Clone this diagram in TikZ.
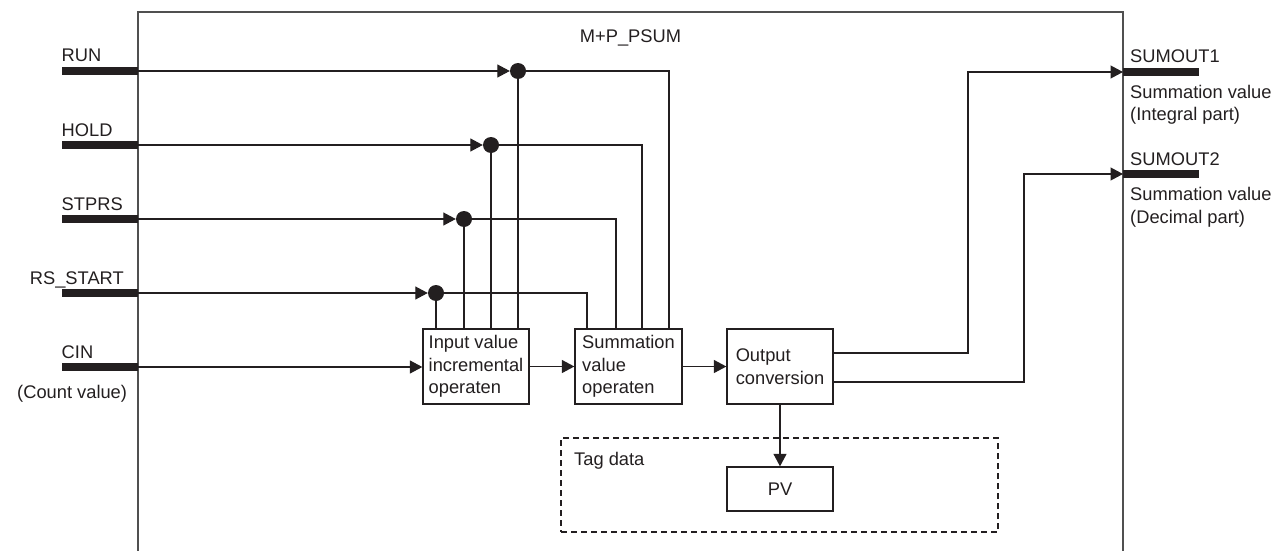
\documentclass[tikz,border=0pt]{standalone}
\usepackage{fontspec}
\setmainfont{Liberation Sans}
\usetikzlibrary{arrows.meta,calc}
\definecolor{ink}{HTML}{231F20}
\definecolor{framec}{HTML}{505050}
\begin{document}
\begin{tikzpicture}[x=1pt,y=-1pt,
  every node/.style={font=\fontsize{18.3}{22.5}\selectfont, text=ink},
  conn/.style={draw=ink, line width=1.2pt},
  arr/.style={conn, -{Triangle[length=12.5pt,width=13pt]}},
  iobar/.style={draw=ink, line width=8pt},
  blk/.style={draw=ink, line width=1.3pt, fill=white, minimum width=106pt, minimum height=75pt, align=left, inner sep=0pt},
  jdot/.style={circle, fill=ink, draw=none, inner sep=0pt, minimum size=16pt},
  lbl/.style={inner sep=0pt, anchor=base west},
  rlbl/.style={inner sep=0pt, anchor=base east},
  clbl/.style={inner sep=0pt, anchor=base},
]
\useasboundingbox (0,0) rectangle (1276,551);

% outer frame
\draw[framec, line width=1.5pt] (138,551) -- (138,12) -- (1123,12) -- (1123,551);
\node[clbl] (title) at (630.5,43) {M+P\_PSUM};

% tag data area
\node[draw=ink, line width=1.2pt, dash pattern=on 6pt off 4pt, minimum width=437pt, minimum height=94pt, inner sep=0pt] (tag) at (779.5,485) {};
\node[lbl] (taglbl) at (574,465.5) {Tag data};

% blocks
\node[blk] (ib) at (476,366.5) {Input value\\incremental\\operaten};
\node[blk, minimum width=107pt] (sb) at (628.5,366.5) {Summation\\value\\operaten};
\node[blk] (ob) at (780,366.5) {Output\\conversion};
\node[blk, minimum height=44pt, align=center] (pv) at (780,489) {PV};

% junction dots
\node[jdot] (d1) at (518,71) {};
\node[jdot] (d2) at (491,145) {};
\node[jdot] (d3) at (464,219) {};
\node[jdot] (d4) at (436,293) {};

% input bars
\coordinate (runW) at (62,71);   \coordinate (runE) at (138,71);
\coordinate (holdW) at (62,145); \coordinate (holdE) at (138,145);
\coordinate (stpW) at (62,219);  \coordinate (stpE) at (138,219);
\coordinate (rsW) at (62,293);   \coordinate (rsE) at (138,293);
\coordinate (cinW) at (62,367);  \coordinate (cinE) at (138,367);
\draw[iobar] (runW) -- (runE);
\draw[iobar] (holdW) -- (holdE);
\draw[iobar] (stpW) -- (stpE);
\draw[iobar] (rsW) -- (rsE);
\draw[iobar] (cinW) -- (cinE);

% input labels
\node[lbl] (lrun) at (61.5,62) {RUN};
\node[lbl] (lhold) at (61.5,136) {HOLD};
\node[lbl] (lstp) at (61.5,210) {STPRS};
\node[rlbl] (lrs) at (124,284) {RS\_START};
\node[lbl] (lcin) at (61.5,358) {CIN};
\node[lbl] (lcnt) at (17,398.5) {(Count value)};

% output bars
\coordinate (s1) at (1123,72);  \coordinate (s1e) at (1199,72);
\coordinate (s2) at (1123,174); \coordinate (s2e) at (1199,174);
\draw[iobar] (s1) -- (s1e);
\draw[iobar] (s2) -- (s2e);
\node[lbl] (lso1) at (1130,63) {SUMOUT1};
\node[lbl] (lso1a) at (1130,98) {Summation value};
\node[lbl] (lso1b) at (1130,120.5) {(Integral part)};
\node[lbl] (lso2) at (1130,165) {SUMOUT2};
\node[lbl] (lso2a) at (1130,200.5) {Summation value};
\node[lbl] (lso2b) at (1130,223) {(Decimal part)};

% turning columns
\coordinate (c1) at (669,0);
\coordinate (c2) at (642,0);
\coordinate (c3) at (616,0);
\coordinate (c4) at (587,0);
\coordinate (o1) at (968,0);
\coordinate (o2) at (1024,0);

% input lines to junctions
\draw[arr] (runE) -- (d1.west);
\draw[arr] (holdE) -- (d2.west);
\draw[arr] (stpE) -- (d3.west);
\draw[arr] (rsE) -- (d4.west);
\draw[arr] (cinE) -- (cinE -| ib.west);

% junction to input block
\draw[conn] (d1.south) -- (d1 |- ib.north);
\draw[conn] (d2.south) -- (d2 |- ib.north);
\draw[conn] (d3.south) -- (d3 |- ib.north);
\draw[conn] (d4.south) -- (d4 |- ib.north);

% junction to summation block
\draw[conn] (d1.east) -| (c1 |- sb.north);
\draw[conn] (d2.east) -| (c2 |- sb.north);
\draw[conn] (d3.east) -| (c3 |- sb.north);
\draw[conn] (d4.east) -| (c4 |- sb.north);

% block chain
\draw[arr] (ib.east) -- (sb.west);
\draw[arr] (sb.east) -- (ob.west);
\draw[arr] (ob.south) -- (pv.north);

% outputs
\draw[arr] ([yshift=13.5pt]ob.east) -| (o1 |- s1) -- (s1);
\draw[arr] ([yshift=-15.5pt]ob.east) -| (o2 |- s2) -- (s2);
\end{tikzpicture}
\end{document}
